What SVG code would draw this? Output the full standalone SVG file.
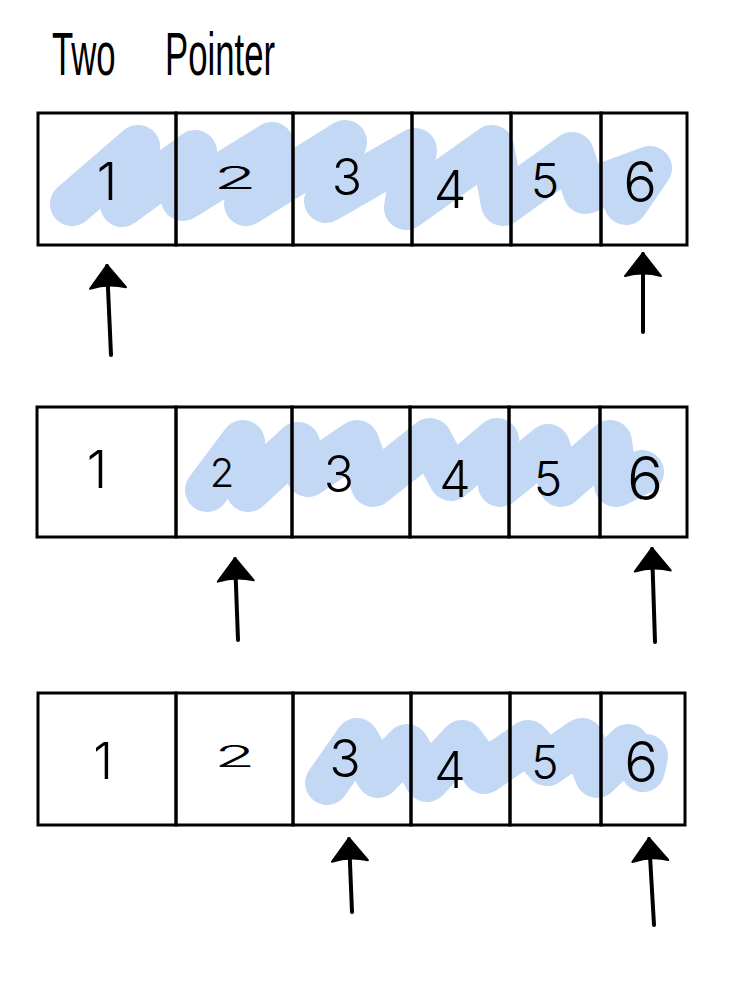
<svg xmlns="http://www.w3.org/2000/svg" width="742" height="982" viewBox="0 0 742 982">
<style>
.cell{fill:none;stroke:#000;stroke-width:3}
.dg{font-family:Inter,"Liberation Sans",sans-serif;font-weight:300;fill:#000;text-anchor:middle}
.hl{fill:none;stroke:#C3D8F5;stroke-width:44;stroke-linecap:round;stroke-linejoin:round}
.arr{fill:none;stroke:#000;stroke-width:4;stroke-linecap:round}
.title{font-family:"Liberation Sans",sans-serif;font-size:62px;fill:#000}
</style>
<defs>
<marker id="head" markerUnits="userSpaceOnUse" viewBox="-25 -20 28 40" markerWidth="28" markerHeight="40" refX="0" refY="0" orient="auto">
<path d="M1,0 L-22,-18 Q-17,0 -22,18 Z" fill="#000" stroke="#000" stroke-width="2" stroke-linejoin="round"/>
</marker>
</defs>
<rect width="742" height="982" fill="#fff"/>

<g id="highlights">
<polyline class="hl" points="72,204 138,147 122,205 195,152 183,199 272,144 246,204 345,142 326,201 415,150 406,208 492,147 503,204 572,154 585,192 650,168 626,203"/>
<polyline class="hl" points="207,490 243,442 248,490 298,444 308,475 357,442 373,485 430,440 451,479 497,440 500,485 548,446 561,485 610,442 616,485 642,472"/>
<polyline class="hl" points="327,783 357,740 378,776 407,746 427,780 462,742 484,772 528,742 547,764 582,740 597,776 628,746 643,770 646,756"/>
</g>

<g id="title"><text class="title" transform="translate(52,75) scale(0.56,1)"><tspan x="0">Two</tspan><tspan x="202">Pointer</tspan></text></g>

<g id="row1">
<g id="r1c1"><rect class="cell" x="38" y="113" width="138" height="132"/><text class="dg" x="107" y="200" font-size="52">1</text></g>
<g id="r1c2"><rect class="cell" x="176" y="113" width="117" height="132"/><text class="dg" font-size="44" transform="translate(235,189) scale(1.6,0.7)">2</text></g>
<g id="r1c3"><rect class="cell" x="293" y="113" width="119" height="132"/><text class="dg" x="347" y="195" font-size="50">3</text></g>
<g id="r1c4"><rect class="cell" x="412" y="113" width="99" height="132"/><text class="dg" x="450" y="208" font-size="52">4</text></g>
<g id="r1c5"><rect class="cell" x="511" y="113" width="90" height="132"/><text class="dg" x="545" y="198" font-size="48">5</text></g>
<g id="r1c6"><rect class="cell" x="601" y="113" width="86" height="132"/><text class="dg" x="640" y="202" font-size="56">6</text></g>
</g>

<g id="row2">
<g id="r2c1"><rect class="cell" x="37" y="407" width="139" height="130"/><text class="dg" x="97" y="488" font-size="52">1</text></g>
<g id="r2c2"><rect class="cell" x="176" y="407" width="116" height="130"/><text class="dg" x="222" y="487" font-size="40">2</text></g>
<g id="r2c3"><rect class="cell" x="292" y="407" width="118" height="130"/><text class="dg" x="339" y="492" font-size="50">3</text></g>
<g id="r2c4"><rect class="cell" x="410" y="407" width="99" height="130"/><text class="dg" x="455" y="497" font-size="50">4</text></g>
<g id="r2c5"><rect class="cell" x="509" y="407" width="91" height="130"/><text class="dg" x="548" y="496" font-size="48">5</text></g>
<g id="r2c6"><rect class="cell" x="600" y="407" width="87" height="130"/><text class="dg" x="645" y="500" font-size="60">6</text></g>
</g>

<g id="row3">
<g id="r3c1"><rect class="cell" x="38" y="693" width="138" height="132"/><text class="dg" x="103" y="779" font-size="50">1</text></g>
<g id="r3c2"><rect class="cell" x="176" y="693" width="117" height="132"/><text class="dg" font-size="42" transform="translate(235,767) scale(1.6,0.7)">2</text></g>
<g id="r3c3"><rect class="cell" x="293" y="693" width="118" height="132"/><text class="dg" x="345" y="777" font-size="52">3</text></g>
<g id="r3c4"><rect class="cell" x="411" y="693" width="99" height="132"/><text class="dg" x="450" y="788" font-size="50">4</text></g>
<g id="r3c5"><rect class="cell" x="510" y="693" width="91" height="132"/><text class="dg" x="545" y="779" font-size="46">5</text></g>
<g id="r3c6"><rect class="cell" x="601" y="693" width="84" height="132"/><text class="dg" x="641" y="782" font-size="56">6</text></g>
</g>

<g id="connectors">
<path class="arr" d="M111,355 L107,266" marker-end="url(#head)"/>
<path class="arr" d="M643,332 L643,254" marker-end="url(#head)"/>
<path class="arr" d="M238,640 L235,559" marker-end="url(#head)"/>
<path class="arr" d="M655,642 L652,549" marker-end="url(#head)"/>
<path class="arr" d="M352,912 L349,839" marker-end="url(#head)"/>
<path class="arr" d="M654,925 L649,839" marker-end="url(#head)"/>
</g>
</svg>
